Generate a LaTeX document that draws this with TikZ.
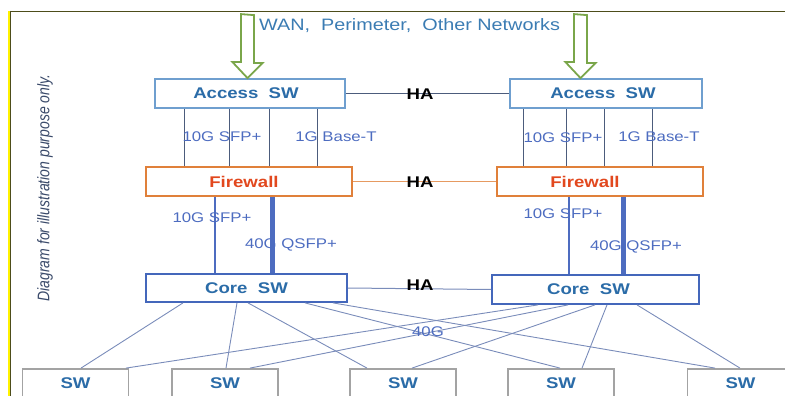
\documentclass[tikz,border=0pt]{standalone}
\usepackage{fontspec}
\setmainfont{Liberation Sans}[FakeStretch=1.2]
\newfontfamily\plainfont{Liberation Sans}
\definecolor{wanblue}{HTML}{3B7CB3}
\definecolor{boxtext}{HTML}{2B6CA8}
\definecolor{labelblue}{HTML}{4D6CC0}
\definecolor{accborder}{HTML}{6F9FCF}
\definecolor{fworange}{HTML}{E0803A}
\definecolor{fwtext}{HTML}{E2481E}
\definecolor{coreborder}{HTML}{4467BB}
\definecolor{swgray}{HTML}{A3A3A3}
\definecolor{arrgreen}{HTML}{7AA64A}
\definecolor{conn}{HTML}{7A8CBA}
\definecolor{accline}{HTML}{4C5C7C}
\definecolor{frameolive}{HTML}{4D4D1A}
\definecolor{notegray}{HTML}{3A4A6A}
\begin{document}
\begin{tikzpicture}[x=1pt,y=-1pt,
  boxbase/.style={rectangle,inner sep=0pt,line width=1.8pt,fill=white,
    font=\fontsize{15.5}{18}\selectfont\bfseries,text=boxtext},
  accbox/.style={boxbase,draw=accborder},
  fwbox/.style={boxbase,draw=fworange,text=fwtext},
  corebox/.style={boxbase,draw=coreborder},
  swbox/.style={boxbase,draw=swgray,minimum width=106pt,minimum height=28pt},
  halabel/.style={inner sep=0pt,font=\fontsize{15.5}{18}\selectfont\bfseries,text=black},
  portlabel/.style={inner sep=0pt,font=\fontsize{14}{16}\selectfont,text=labelblue},
  bigarrow/.style={draw=arrgreen,line width=1.8pt,fill=white,line join=miter},
  vline/.style={accline,line width=1pt},
  thinup/.style={labelblue,line width=2.4pt},
  thickup/.style={labelblue,line width=5pt},
  connector/.style={conn,line width=0.9pt}
]
\useasboundingbox (0,0) rectangle (785,396);
\clip (0,0) rectangle (785,396);
% frame
\fill[yellow] (7.5,11) rectangle (10,396);
\draw[frameolive,line width=1.2pt] (10.6,11) -- (10.6,396);
\draw[frameolive,line width=1.2pt] (10,11.6) -- (785,11.6);

% boxes
\node[accbox,minimum width=190pt,minimum height=29pt] (accL) at (250,93.5) {\hspace*{-8pt}Access\ \ SW};
\node[accbox,minimum width=192pt,minimum height=29pt] (accR) at (606,93.5) {\hspace*{-6pt}Access\ \ SW};
\node[fwbox,minimum width=206pt,minimum height=29pt] (fwL) at (249,181.5) {\hspace*{-10pt}Firewall};
\node[fwbox,minimum width=206pt,minimum height=29pt] (fwR) at (600,181.5) {\hspace*{-30pt}Firewall};
\node[corebox,minimum width=201pt,minimum height=28pt] (coreL) at (246.5,288) {Core\ \ SW};
\node[corebox,minimum width=207pt,minimum height=29pt] (coreR) at (595.5,289.5) {\hspace*{-14pt}Core\ \ SW};
\node[swbox] (sw1) at (75.5,383) {SW};
\node[swbox] (sw2) at (225,383) {SW};
\node[swbox] (sw3) at (403,383) {SW};
\node[swbox] (sw4) at (561,383) {SW};
\node[swbox] (sw5) at (740.5,383) {SW};

% green arrows
\draw[bigarrow] ([xshift=-6.5pt]accL.north -| 247.5,0) ++(0,-64) coordinate (aLtop)
  -- ++(0,48) -- ++(-8.5,0) -- (accL.north -| 247.5,0) -- ++(15,-15) -- ++(-8.5,0) -- ++(0,-48) -- cycle;
\draw[bigarrow] ([xshift=-6.5pt]accR.north -| 580.5,0) ++(0,-64) coordinate (aRtop)
  -- ++(0,48) -- ++(-8.5,0) -- (accR.north -| 580.5,0) -- ++(15,-15) -- ++(-8.5,0) -- ++(0,-48) -- cycle;
\node[inner sep=0pt,anchor=west,font=\fontsize{16.5}{18}\selectfont,text=wanblue] (wan) at (259,26) {WAN,\ \ Perimeter,\ \ Other Networks};

% HA links
\draw[accline,line width=1pt] (accL.east) -- (accR.west);
\draw[fworange!80,line width=1pt] (fwL.east) -- (fwR.west);
\draw[conn,line width=1pt] (coreL.east) -- (coreR.west);
\node[halabel] (ha1) at (420,94) {HA};
\node[halabel] (ha2) at (420,182) {HA};
\node[halabel] (ha3) at (420,285) {HA};

% access -> firewall
\foreach \x in {184,229,269,317}{\draw[vline] (accL.south -| \x,0) -- (fwL.north -| \x,0);}
\foreach \x in {523,566,604,652}{\draw[vline] (accR.south -| \x,0) -- (fwR.north -| \x,0);}
\node[portlabel] (l1) at (222,137) {10G SFP+};
\node[portlabel] (l2) at (336,137) {1G Base-T};
\node[portlabel] (l3) at (563,138) {10G SFP+};
\node[portlabel] (l4) at (659,137) {1G Base-T};

% firewall -> core
\draw[thinup] (fwL.south -| 215,0) -- (coreL.north -| 215,0);
\draw[thickup] (fwL.south -| 272,0) -- (coreL.north -| 272,0);
\draw[thinup] (fwR.south -| 569,0) -- (coreR.north -| 569,0);
\draw[thickup] (fwR.south -| 623,0) -- (coreR.north -| 623,0);
\node[portlabel] (l5) at (212,218) {10G SFP+};
\node[portlabel] (l6) at (291,245) {40G QSFP+};
\node[portlabel] (l7) at (563,214) {10G SFP+};
\node[portlabel] (l8) at (636,247) {40G QSFP+};

% core -> access switches
\draw[connector] (coreL.south -| 183,0) -- (sw1.north -| 81,0);
\draw[connector] (coreL.south -| 237,0) -- (sw2.north -| 226,0);
\draw[connector] (coreL.south -| 248,0) -- (sw3.north -| 367,0);
\draw[connector] (coreL.south -| 305,0) -- (sw4.north -| 560,0);
\draw[connector] (coreL.south -| 333,0) -- (sw5.north -| 715,0);
\draw[connector] (coreR.south -| 538,0) -- (sw1.north -| 126,0);
\draw[connector] (coreR.south -| 568,0) -- (sw2.north -| 250,0);
\draw[connector] (coreR.south -| 595,0) -- (sw3.north -| 412,0);
\draw[connector] (coreR.south -| 607,0) -- (sw4.north -| 582,0);
\draw[connector] (coreR.south -| 637,0) -- (sw5.north -| 740,0);
\node[portlabel] (l9) at (428,332) {40G};

% side note
\node[inner sep=0pt,rotate=90,text=notegray] (note) at (45,188)
  {\scalebox{1}[1.2]{\plainfont\itshape\fontsize{14}{16}\selectfont Diagram for illustration  purpose only.}};
\end{tikzpicture}
\end{document}
